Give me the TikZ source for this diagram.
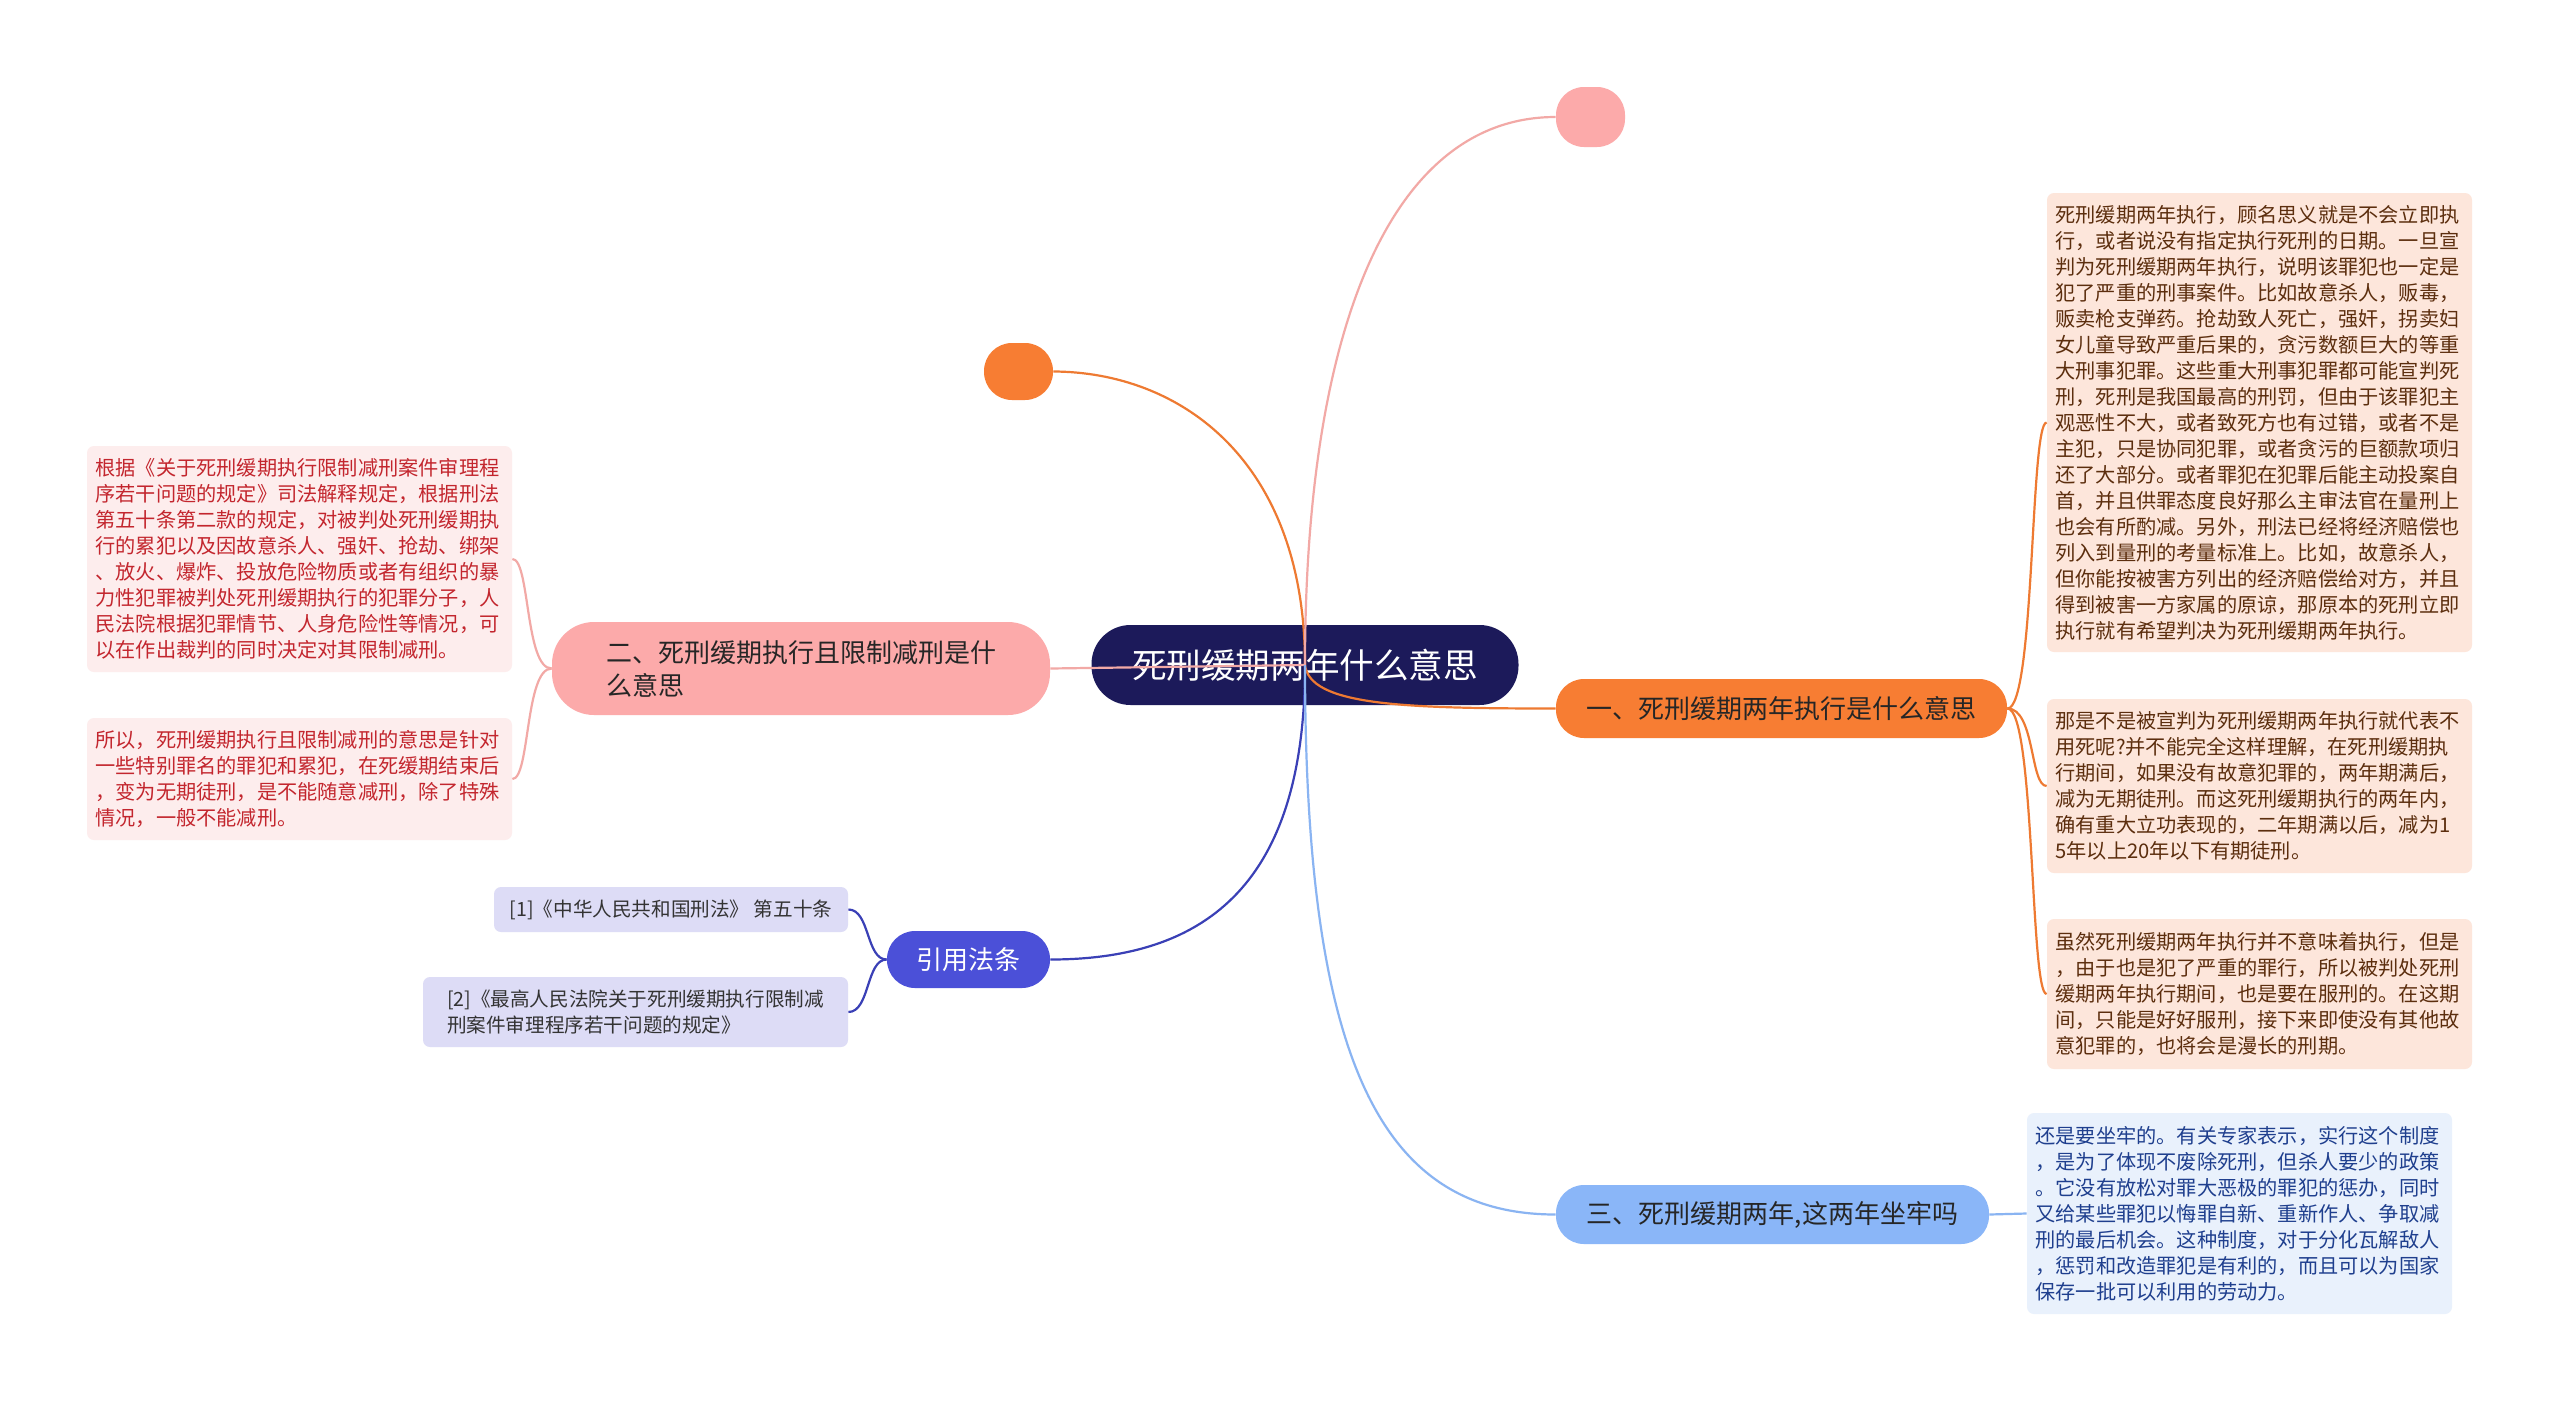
\documentclass[tikz,border=0pt]{standalone}
\usepackage{fontspec}
\setmainfont{Noto Sans CJK SC}
\usepackage{tikz}
\usetikzlibrary{arrows.meta}

\definecolor{rootnavy}{HTML}{1C1A5A}
\definecolor{pinkfill}{HTML}{FCAAAA}
\definecolor{pinkline}{HTML}{F2A9A6}
\definecolor{orangefill}{HTML}{F77D33}
\definecolor{orangeline}{HTML}{EE7A32}
\definecolor{indigofill}{HTML}{4B50D8}
\definecolor{indigoline}{HTML}{3A40B6}
\definecolor{skyfill}{HTML}{8AB6F8}
\definecolor{skyline}{HTML}{8AB4F2}
\definecolor{rednote}{HTML}{FDEDED}
\definecolor{redtext}{HTML}{C3262E}
\definecolor{peachnote}{HTML}{FDE6DB}
\definecolor{browntext}{HTML}{5C2E0E}
\definecolor{bluenote}{HTML}{E9F1FC}
\definecolor{bluetext}{HTML}{1F3F8E}
\definecolor{citenote}{HTML}{DDDCF6}

\tikzset{
  topic/.style = {rectangle, rounded corners = 14pt, minimum height = 29.5pt, inner sep = 0pt, text = black!85, font = \fontsize{13}{16.5}\selectfont},
  note/.style = {rectangle, rounded corners = 3.5pt, text width = 204pt, inner xsep = 4.25pt, inner ysep = 0pt, align = left, font = \fontsize{10.1}{13}\selectfont},
  citebox/.style = {rectangle, rounded corners = 3.5pt, fill = citenote, text = black!80, inner sep = 0pt, font = \fontsize{9.8}{12.6}\selectfont},
  link/.style = {line width = 1.1pt},
}

\begin{document}
\begin{tikzpicture}[x = 0.5pt, y = -0.5pt]
\useasboundingbox[fill = white] (0,0) rectangle (2560,1403);

% centre and first level
\draw (1305,665) node[rectangle, rounded corners = 19.5pt, fill = rootnavy, text = white, minimum width = 213.5pt, minimum height = 40pt, inner sep = 0pt, font = \fontsize{17.3}{20}\selectfont, name = root]{死刑缓期两年什么意思};
\draw (1781.5,708.5) node[topic, fill = orangefill, minimum width = 225.5pt, name = t1]{一、死刑缓期两年执行是什么意思};
\draw (801,668.5) node[topic, fill = pinkfill, minimum width = 249pt, minimum height = 46.5pt, rounded corners = 21pt, name = t2]{\parbox{195pt}{二、死刑缓期执行且限制减刑是什\\么意思}};
\draw (968.5,959.5) node[topic, fill = indigofill, text = white, minimum width = 81.5pt, minimum height = 28.5pt, name = t3]{引用法条};
\draw (1772.5,1214.5) node[topic, fill = skyfill, minimum width = 216.5pt, name = t4]{三、死刑缓期两年,这两年坐牢吗};
\draw (1018.5,371.5) node[rectangle, rounded corners = 14pt, fill = orangefill, minimum width = 34.5pt, minimum height = 28.5pt, name = dot1]{};
\draw (1590.5,117) node[rectangle, rounded corners = 14pt, fill = pinkfill, minimum width = 34.5pt, minimum height = 30pt, name = dot2]{};

% notes
\draw (2259.5,422.5) node[note, fill = peachnote, text = browntext, minimum height = 229.5pt, name = r1]{死刑缓期两年执行，顾名思义就是不会立即执\\行，或者说没有指定执行死刑的日期。一旦宣\\判为死刑缓期两年执行，说明该罪犯也一定是\\犯了严重的刑事案件。比如故意杀人，贩毒，\\贩卖枪支弹药。抢劫致人死亡，强奸，拐卖妇\\女儿童导致严重后果的，贪污数额巨大的等重\\大刑事犯罪。这些重大刑事犯罪都可能宣判死\\刑，死刑是我国最高的刑罚，但由于该罪犯主\\观恶性不大，或者致死方也有过错，或者不是\\主犯，只是协同犯罪，或者贪污的巨额款项归\\还了大部分。或者罪犯在犯罪后能主动投案自\\首，并且供罪态度良好那么主审法官在量刑上\\也会有所酌减。另外，刑法已经将经济赔偿也\\列入到量刑的考量标准上。比如，故意杀人，\\但你能按被害方列出的经济赔偿给对方，并且\\得到被害一方家属的原谅，那原本的死刑立即\\执行就有希望判决为死刑缓期两年执行。};
\draw (2259.5,786) node[note, fill = peachnote, text = browntext, minimum height = 87pt, name = r2]{那是不是被宣判为死刑缓期两年执行就代表不\\用死呢?并不能完全这样理解，在死刑缓期执\\行期间，如果没有故意犯罪的，两年期满后，\\减为无期徒刑。而这死刑缓期执行的两年内，\\确有重大立功表现的，二年期满以后，减为1\\5年以上20年以下有期徒刑。};
\draw (2259.5,994) node[note, fill = peachnote, text = browntext, minimum height = 75pt, name = r3]{虽然死刑缓期两年执行并不意味着执行，但是\\，由于也是犯了严重的罪行，所以被判处死刑\\缓期两年执行期间，也是要在服刑的。在这期\\间，只能是好好服刑，接下来即使没有其他故\\意犯罪的，也将会是漫长的刑期。};
\draw (2239.5,1213.5) node[note, fill = bluenote, text = bluetext, minimum height = 100.5pt, name = b1]{还是要坐牢的。有关专家表示，实行这个制度\\，是为了体现不废除死刑，但杀人要少的政策\\。它没有放松对罪大恶极的罪犯的惩办，同时\\又给某些罪犯以悔罪自新、重新作人、争取减\\刑的最后机会。这种制度，对于分化瓦解敌人\\，惩罚和改造罪犯是有利的，而且可以为国家\\保存一批可以利用的劳动力。};
\draw (299.5,559) node[note, fill = rednote, text = redtext, minimum height = 113pt, name = l1]{根据《关于死刑缓期执行限制减刑案件审理程\\序若干问题的规定》司法解释规定，根据刑法\\第五十条第二款的规定，对被判处死刑缓期执\\行的累犯以及因故意杀人、强奸、抢劫、绑架\\、放火、爆炸、投放危险物质或者有组织的暴\\力性犯罪被判处死刑缓期执行的犯罪分子，人\\民法院根据犯罪情节、人身危险性等情况，可\\以在作出裁判的同时决定对其限制减刑。};
\draw (299.5,779) node[note, fill = rednote, text = redtext, minimum height = 61pt, name = l2]{所以，死刑缓期执行且限制减刑的意思是针对\\一些特别罪名的罪犯和累犯，在死缓期结束后\\，变为无期徒刑，是不能随意减刑，除了特殊\\情况，一般不能减刑。};
\draw (671,909.5) node[citebox, minimum width = 177pt, minimum height = 22.5pt, name = c1]{[1]《中华人民共和国刑法》 第五十条};
\draw (635.5,1012) node[citebox, minimum width = 212.5pt, minimum height = 35pt, align = left, name = c2]{[2]《最高人民法院关于死刑缓期执行限制减\\刑案件审理程序若干问题的规定》};

% branches from the centre
\draw[link, orangeline] (root.center) .. controls (1305,460) and (1180,372) .. (dot1.east);
\draw[link, pinkline] (root.center) .. controls (1305,330) and (1390,117) .. (dot2.west);
\draw[link, pinkline] (root.center) -- (t2.east);
\draw[link, orangeline] (root.center) .. controls (1310,705) and (1400,708.5) .. (t1.west);
\draw[link, indigoline] (root.center) .. controls (1305,880) and (1210,959.5) .. (t3.east);
\draw[link, skyline] (root.center) .. controls (1305,1060) and (1380,1214.5) .. (t4.west);

% second level
\draw[link, orangeline] (t1.east) .. controls (2035,708.5) and (2030,422.5) .. (r1.west);
\draw[link, orangeline] (t1.east) .. controls (2035,708.5) and (2030,786) .. (r2.west);
\draw[link, orangeline] (t1.east) .. controls (2035,708.5) and (2030,994) .. (r3.west);
\draw[link, skyline] (t4.east) -- (b1.west);
\draw[link, pinkline] (t2.west) .. controls (525,668.5) and (530,559) .. (l1.east);
\draw[link, pinkline] (t2.west) .. controls (525,668.5) and (530,779) .. (l2.east);
\draw[link, indigoline] (t3.west) .. controls (866,959.5) and (870,909.5) .. (c1.east);
\draw[link, indigoline] (t3.west) .. controls (866,959.5) and (870,1012) .. (c2.east);
\end{tikzpicture}
\end{document}
